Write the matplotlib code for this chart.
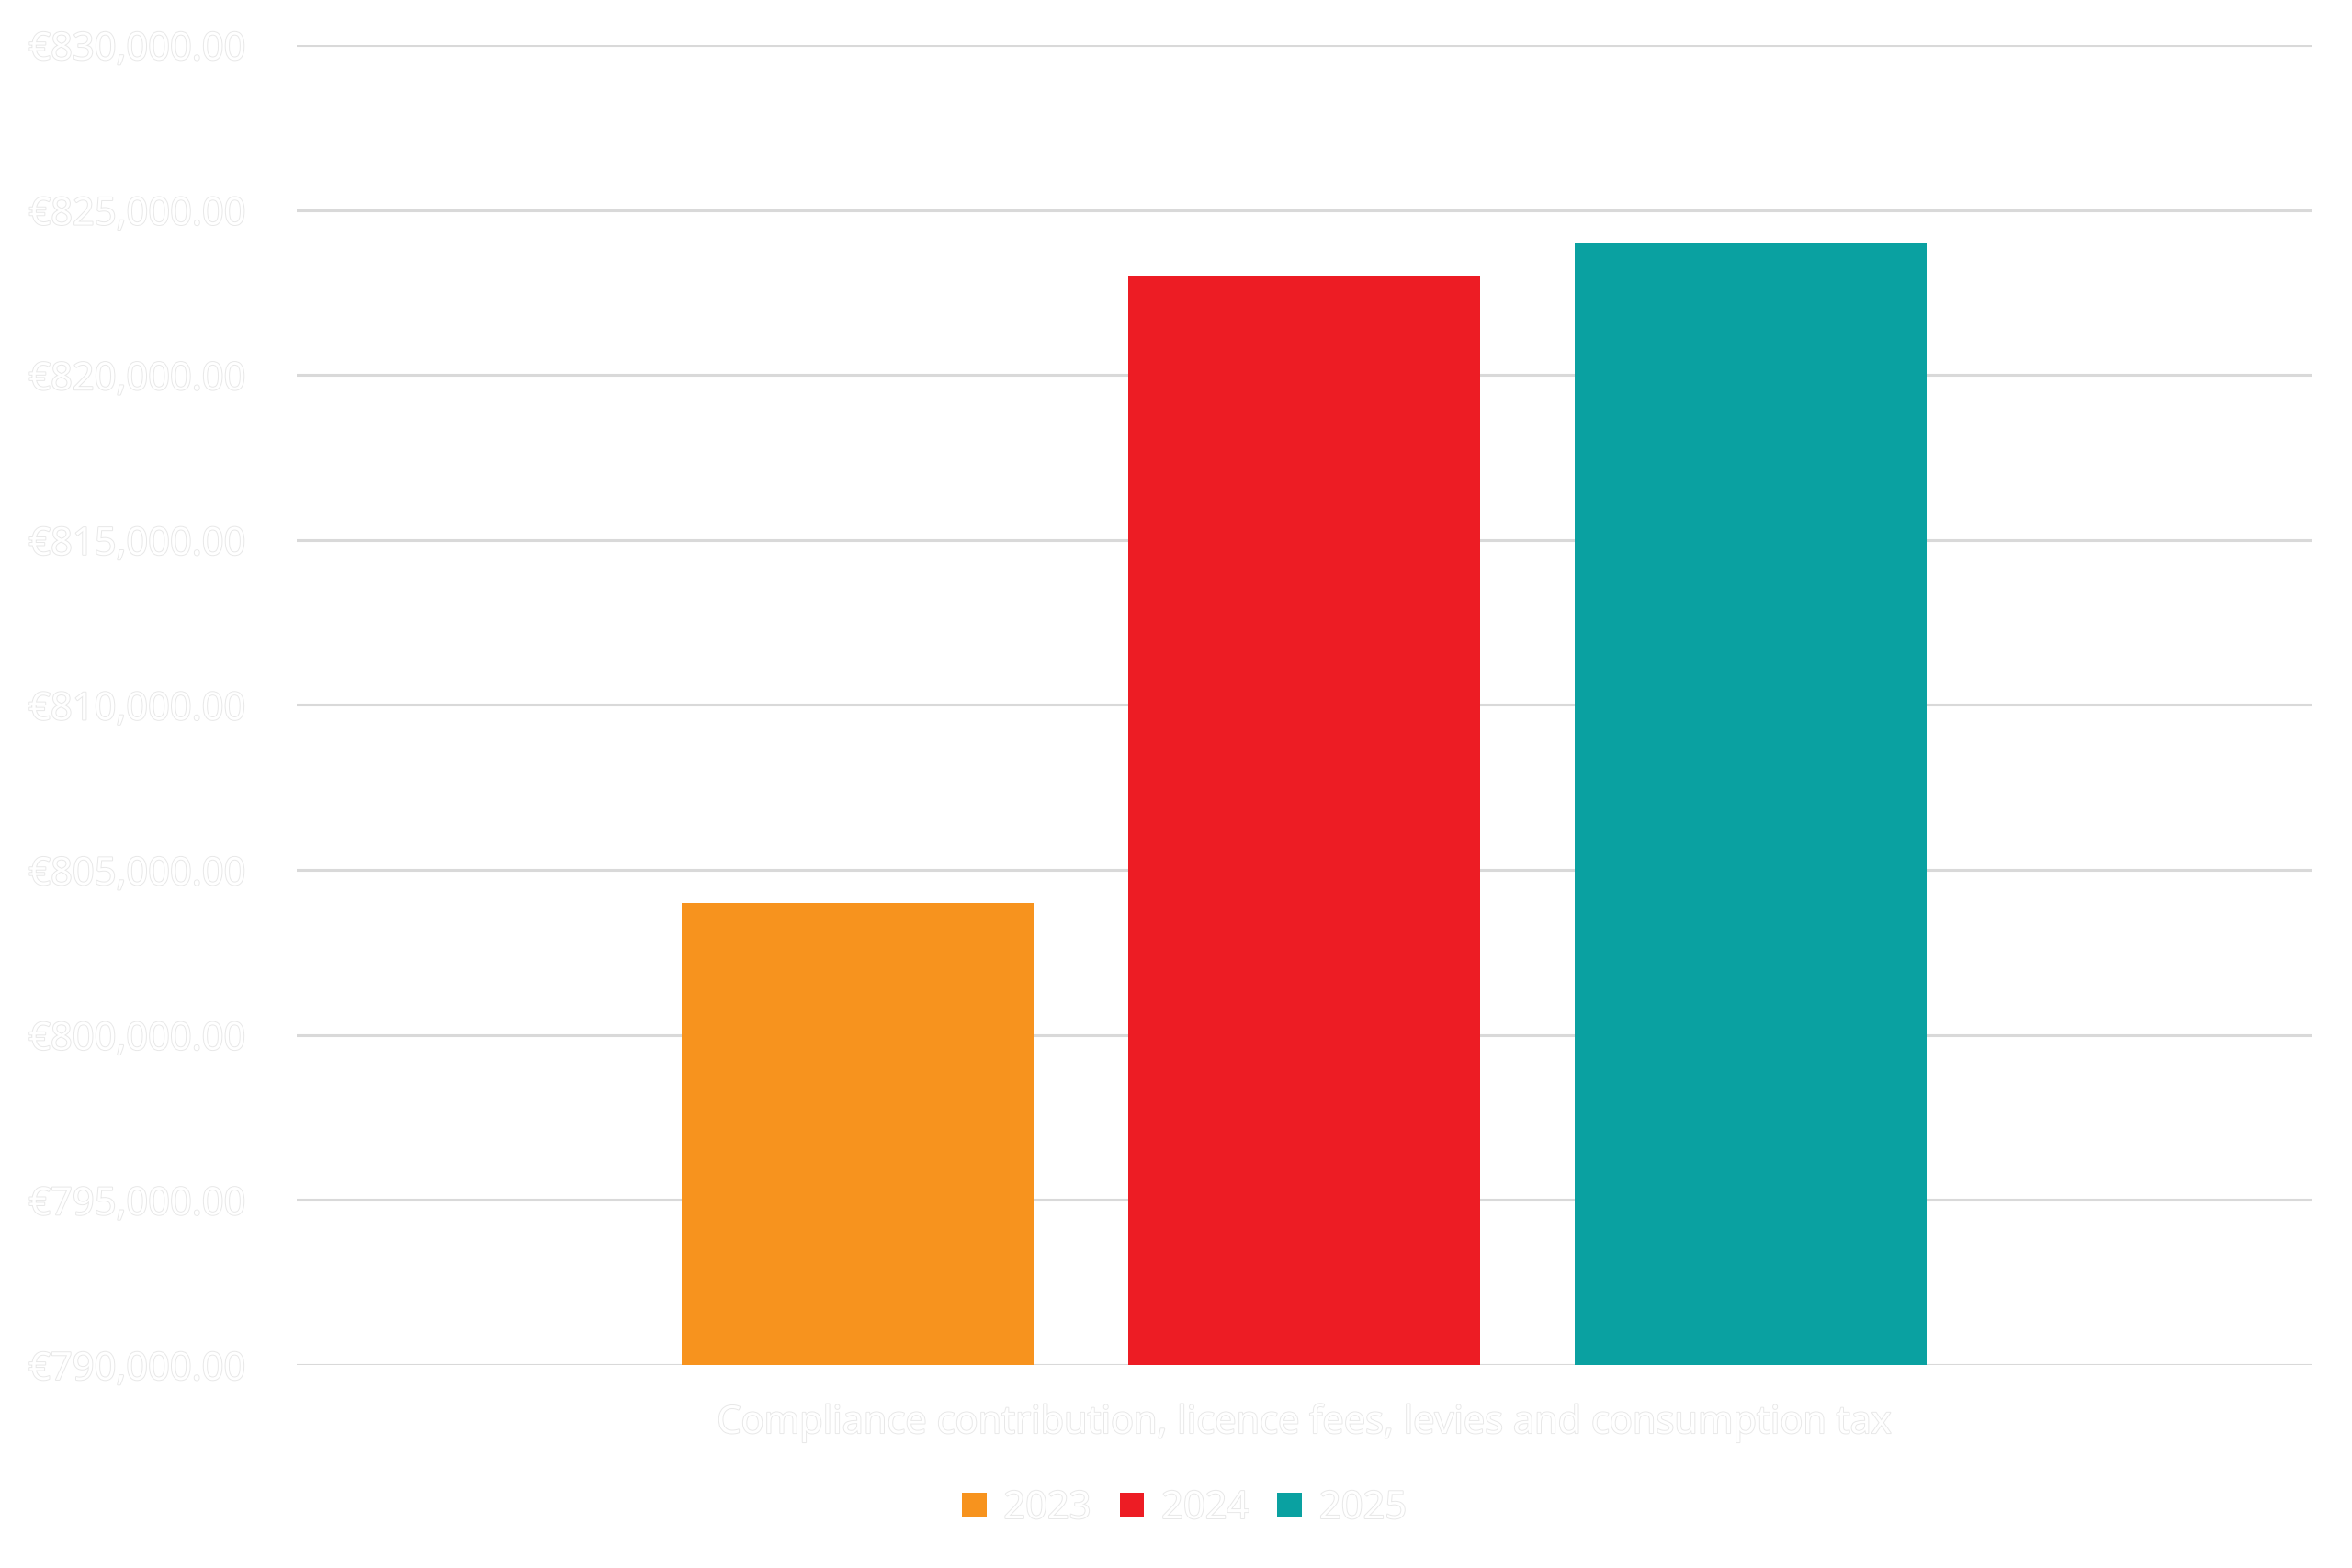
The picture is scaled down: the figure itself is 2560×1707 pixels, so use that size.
import matplotlib
matplotlib.use("Agg")
import matplotlib.pyplot as plt
import matplotlib.patheffects as pe
from matplotlib.ticker import MultipleLocator, FuncFormatter

plt.rcParams['font.family'] = ['Open Sans', 'DejaVu Sans']

# data
category = "Compliance contribution, licence fees, levies and consumption tax"
years = ["2023", "2024", "2025"]
values = [804000, 823000, 824000]
colors = ["#F7931E", "#ED1C24", "#0AA1A1"]

fs = 15
outline = [pe.withStroke(linewidth=0.7, foreground="#e8e8e8")]

fig = plt.figure(figsize=(12.8, 8.535), dpi=200)
ax = fig.add_axes([0.1262, 0.1295, 0.9828 - 0.1262, 0.9713 - 0.1295])

offsets = [-1, 0, 1]
for off, yr, v, c in zip(offsets, years, values, colors):
    ax.bar(off, v - 790000, bottom=790000, width=0.788, color=c, label=yr, zorder=3)

ax.set_ylim(790000, 830000)
ax.set_xlim(-2.256, 2.256)
ax.yaxis.set_major_locator(MultipleLocator(5000))
ax.yaxis.set_major_formatter(FuncFormatter(lambda v, p: "€{:,.2f}".format(v)))
ax.grid(axis="y", color="#d9d9d9", linewidth=1.1, zorder=0)
for s in ax.spines.values():
    s.set_visible(False)

ax.set_xticks([0])
ax.set_xticklabels([category])
ax.tick_params(axis="both", length=0, labelsize=fs, labelcolor="white")
ax.tick_params(axis="y", pad=20)
ax.tick_params(axis="x", pad=15)
for t in ax.get_xticklabels() + ax.get_yticklabels():
    t.set_path_effects(outline)

leg = fig.legend(loc="center", bbox_to_anchor=(0.5035, 1 - 1642 / 1707), ncol=3,
                 frameon=False, fontsize=fs, handlelength=0.64, handleheight=0.64,
                 handletextpad=0.45, columnspacing=0.75)
for t in leg.get_texts():
    t.set_color("white")
    t.set_path_effects(outline)

fig.savefig("out.png", dpi=200)
